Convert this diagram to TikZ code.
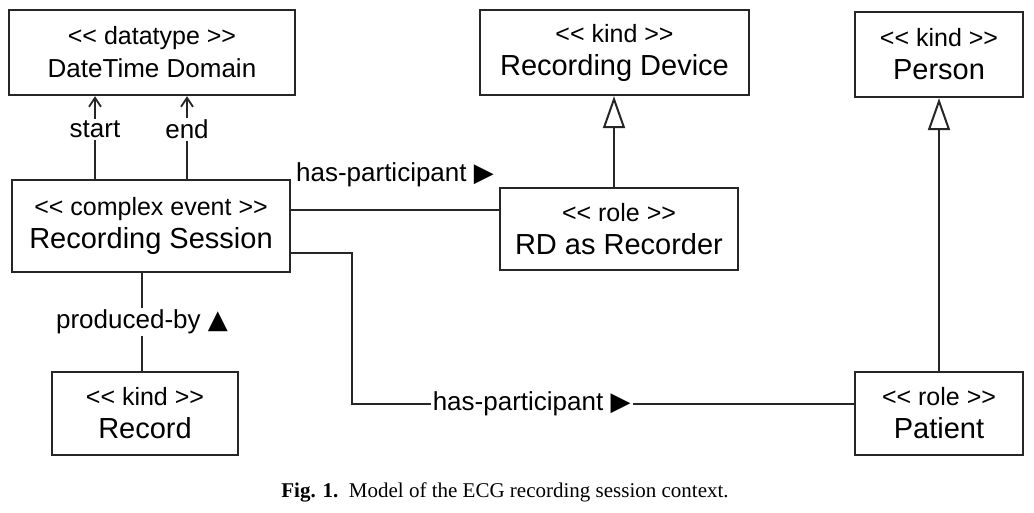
\documentclass[tikz,border=0pt]{standalone}
\usepackage{fontspec}
\setmainfont{Liberation Sans}
\newfontfamily\symfont{DejaVu Sans}
\newfontfamily\capfont{Liberation Serif}
\usetikzlibrary{arrows.meta}
\newcommand{\umlbody}[2]{{\fontsize{25}{30}\selectfont <{}< #1 >{}>}\\{#2}}
\newcommand{\tri}[1]{{\symfont\fontsize{26}{30}\selectfont #1}}
\tikzset{
  umlbox/.style={draw=black!85, line width=2.3pt, align=center, inner sep=0pt,
    font=\fontsize{29}{33}\selectfont},
  conn/.style={draw=black!85, line width=2pt},
  lbl/.style={font=\fontsize{26}{30}\selectfont, fill=white, inner sep=2pt},
  gen/.style={conn, -{Triangle[open, length=32pt, width=22pt, line width=2pt]}},
  nav/.style={conn, -{Straight Barb[length=9pt, width=12pt, line width=1.8pt]}},
}
\begin{document}
\begin{tikzpicture}[x=1pt, y=-1pt]
\useasboundingbox (0,0) rectangle (1034,512);
\node[umlbox, minimum width=286pt, minimum height=85pt] (dt) at (152,52.5) {\umlbody{datatype}{\fontsize{26}{33}\selectfont DateTime Domain}};
\node[umlbox, minimum width=278pt, minimum height=92pt] (rs) at (151,226) {\umlbody{complex event}{Recording Session}};
\node[umlbox, minimum width=269pt, minimum height=85pt] (rd) at (614.5,52.5) {\umlbody{kind}{Recording Device}};
\node[umlbox, minimum width=238pt, minimum height=82pt] (rdr) at (619,229) {\umlbody{role}{RD as Recorder}};
\node[umlbox, minimum width=168pt, minimum height=85pt] (per) at (939,54.5) {\umlbody{kind}{Person}};
\node[umlbox, minimum width=186pt, minimum height=83pt] (rec) at (145,413.5) {\umlbody{kind}{Record}};
\node[umlbox, minimum width=168pt, minimum height=83pt] (pat) at (939,413.5) {\umlbody{role}{Patient}};

\draw[nav] (rs.north -| 95,0) -- node[lbl, pos=0.6] {start} (dt.south -| 95,0);
\draw[nav] (rs.north -| 187,0) -- node[lbl, pos=0.6] {end} (dt.south -| 187,0);

\draw[conn] (rs.east |- 0,210) -- node[lbl, fill=none, midway, above=20pt] {has-participant \tri{▶}} (rdr.west |- 0,210);
\draw[conn] (rs.east |- 0,253) -- (352,253) -- (352,404) -- node[lbl, pos=0.358] {has-participant \tri{▶}} (pat.west |- 0,404);

\draw[conn] (rs.south -| 142,0) -- node[lbl, midway] {produced-by \tri{▲}} (rec.north -| 142,0);

\draw[gen] (rdr.north -| 614,0) -- (rd.south -| 614,0);
\draw[gen] (pat.north) -- (per.south);

\node[font=\capfont\fontsize{21}{25}\selectfont] (cap) at (505,492) {\textbf{Fig. 1.}\ \ Model of the ECG recording session context.};
\end{tikzpicture}
\end{document}
